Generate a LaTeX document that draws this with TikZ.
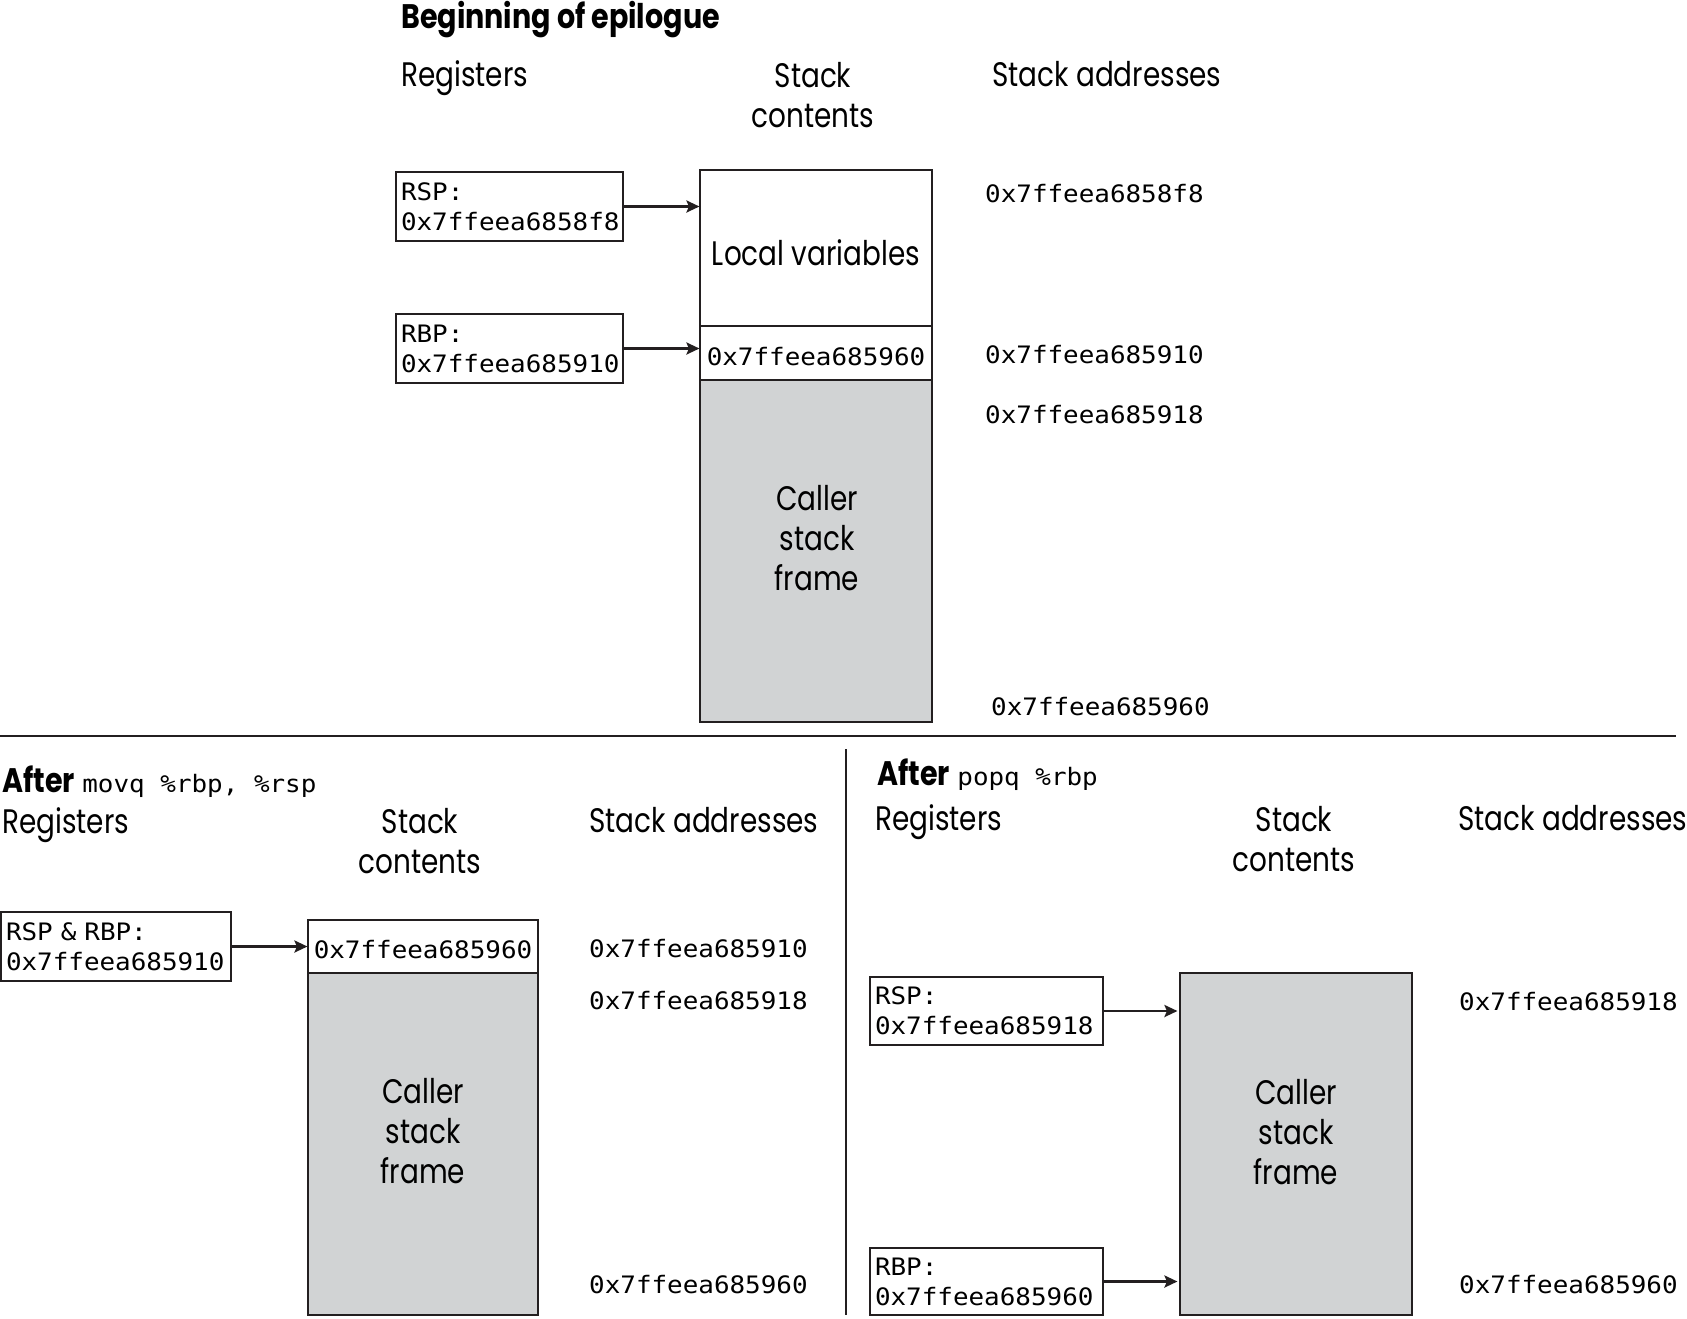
\documentclass[tikz,border=0pt]{standalone}
\usepackage{fontspec}
\setmainfont{Poppins}[FakeStretch=0.82, BoldFeatures={FakeStretch=0.84}]
\newfontfamily\monofam{DejaVu Sans Mono}[FakeStretch=1.08]
\usetikzlibrary{arrows.meta}
\definecolor{cgray}{RGB}{209,211,212}
\definecolor{cline}{RGB}{35,31,32}
\newcommand\hdrfont{\fontsize{34}{40}\selectfont}
\newcommand\monof{\monofam\fontsize{24}{30}\selectfont}
\tikzset{
  hdr/.style={inner sep=0pt, font=\hdrfont, anchor=base west},
  hdrc/.style={inner sep=0pt, font=\hdrfont, align=center},
  addr/.style={inner sep=0pt, font=\monof, anchor=base west},
  regbox/.style={draw=cline, line width=1.1pt, inner xsep=5pt, inner ysep=0pt, align=left, font=\monof},
  cell/.style={draw=cline, line width=1.1pt, fill=white, inner sep=0pt, font=\monof, text height=23pt, text depth=0pt},
  graybox/.style={draw=cline, line width=1.1pt, fill=cgray, inner sep=0pt},
  arr/.style={draw=cline, line width=2.6pt, -{Stealth[length=13pt,width=12pt,inset=2.5pt]}},
  divline/.style={line width=1.1pt, cline},
}
\begin{document}
\begin{tikzpicture}[x=1pt,y=-1pt]
\useasboundingbox (0,0) rectangle (1687,1318);
% ---------- top ----------
\node[hdr, font=\hdrfont\bfseries] (t1) at (401,28) {Beginning of epilogue};
\node[hdr] (reg1) at (401,86) {Registers};
\node[hdrc] (sc1) at (813,95.5) {Stack\\contents};
\node[hdr] (sa1) at (992,86) {Stack addresses};
\node[regbox, text width=217pt, minimum height=69pt] (rsp1) at (509.5,206.5) {RSP:\\0x7ffeea6858f8};
\node[regbox, text width=217pt, minimum height=69pt] (rbp1) at (509.5,348.5) {RBP:\\0x7ffeea685910};
\node[cell, minimum width=232pt, minimum height=156pt, font=\hdrfont, text height=34pt] (lv1) at (816,248) {Local variables};
\node[cell, minimum width=232pt, minimum height=54pt, text height=24pt] (c1) at (816,353) {0x7ffeea685960};
\node[graybox, minimum width=232pt, minimum height=342pt] (g1) at (816,551) {};
\node[hdrc] (cf1) at (817,538) {Caller\\stack\\frame};
\draw[arr] (rsp1.east) -- (rsp1.east -| lv1.west);
\draw[arr] (rbp1.east) -- (rbp1.east -| c1.west);
\node[addr] (a11) at (985,202) {0x7ffeea6858f8};
\node[addr] (a12) at (985,363) {0x7ffeea685910};
\node[addr] (a13) at (985,423) {0x7ffeea685918};
\node[addr] (a14) at (991,715) {0x7ffeea685960};
% ---------- dividers ----------
\coordinate (hl) at (0,736);
\coordinate (hr) at (1676,736);
\coordinate (vt) at (846,749);
\coordinate (vb) at (846,1315);
\draw[divline] (hl) -- (hr);
\draw[divline] (vt) -- (vb);
% ---------- bottom left ----------
\node[hdr] (t2) at (2,792) {\textbf{After} {\monof movq \%rbp, \%rsp}};
\node[hdr] (reg2) at (2,833) {Registers};
\node[hdrc] (sc2) at (420,841.5) {Stack\\contents};
\node[hdr] (sa2) at (589,832) {Stack addresses};
\node[regbox, text width=220pt, minimum height=69pt] (rr2) at (116,946.5) {RSP \& RBP:\\0x7ffeea685910};
\node[cell, minimum width=230pt, minimum height=53pt] (c2) at (423,946.5) {0x7ffeea685960};
\node[graybox, minimum width=230pt, minimum height=342pt] (g2) at (423,1144) {};
\node[hdrc] (cf2) at (423,1131) {Caller\\stack\\frame};
\draw[arr] (rr2.east) -- (rr2.east -| c2.west);
\node[addr] (a21) at (589,957) {0x7ffeea685910};
\node[addr] (a22) at (589,1009) {0x7ffeea685918};
\node[addr] (a23) at (589,1293) {0x7ffeea685960};
% ---------- bottom right ----------
\node[hdr] (t3) at (877,785) {\textbf{After} {\monof popq \%rbp}};
\node[hdr] (reg3) at (875,830) {Registers};
\node[hdrc] (sc3) at (1294,839.5) {Stack\\contents};
\node[hdr] (sa3) at (1458,830) {Stack addresses};
\node[regbox, text width=223pt, minimum height=68pt] (rsp3) at (986.5,1011) {RSP:\\0x7ffeea685918};
\node[regbox, text width=223pt, minimum height=67pt] (rbp3) at (986.5,1281.5) {RBP:\\0x7ffeea685960};
\node[graybox, minimum width=232pt, minimum height=342pt] (g3) at (1296,1144) {};
\node[hdrc] (cf3) at (1296,1132) {Caller\\stack\\frame};
\draw[arr, shorten >=2pt] (rsp3.east) -- (rsp3.east -| g3.west);
\draw[arr, shorten >=2pt] (rbp3.east) -- (rbp3.east -| g3.west);
\node[addr] (a31) at (1459,1010) {0x7ffeea685918};
\node[addr] (a32) at (1459,1293) {0x7ffeea685960};
\end{tikzpicture}
\end{document}
